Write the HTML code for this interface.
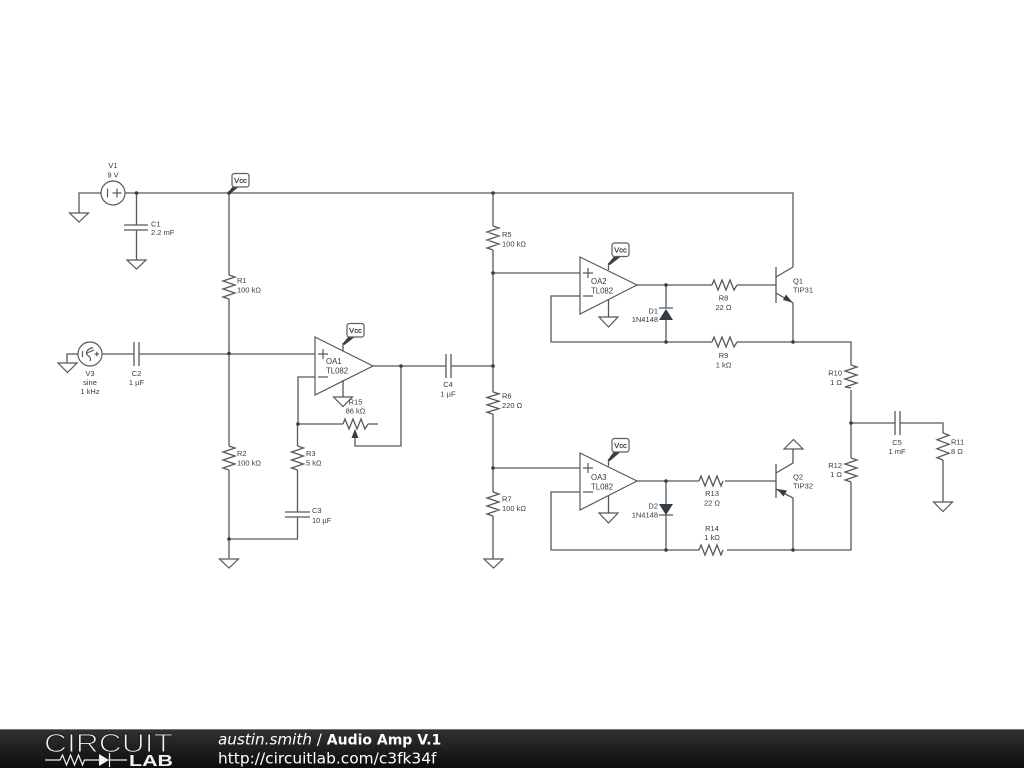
<!DOCTYPE html>
<html><head><meta charset="utf-8"><style>
html,body{margin:0;padding:0;background:#fff;width:1024px;height:768px;overflow:hidden}
svg{display:block}
.w{fill:none;stroke:#54595c;stroke-width:1.3}
.t{fill:none;stroke:#54595c;stroke-width:1.2}
.l{font:7.5px "Liberation Sans",sans-serif;fill:#3a3a3a}
.m{text-anchor:middle}
.op{font:7.8px "Liberation Sans",sans-serif;fill:#3a3a3a}
.v{font:7.6px "Liberation Sans",sans-serif;fill:#222;stroke:#222;stroke-width:.15;text-anchor:middle}
.b{fill:#fff;stroke:#5a5f62;stroke-width:1.2}
.f{font:15.2px "DejaVu Sans",sans-serif;fill:#fff}
</style></head><body>
<svg width="1024" height="768" viewBox="0 0 1024 768" xmlns="http://www.w3.org/2000/svg">
<defs>
<linearGradient id="g" x1="0" y1="0" x2="0" y2="1"><stop offset="0" stop-color="#333"/><stop offset="1" stop-color="#0c0c0c"/></linearGradient>
</defs>
<rect width="1024" height="768" fill="#fff"/>

<!-- wires -->
<path class="w" d="M125 193H793V267M101 193H79V213M136.500 193V225M136.500 230V260
M229 193V275M229 299V446M229 470V558M229 539H297.500V517M297.500 512V470M297.500 446V424
M102 354H134M139 354H315M78 354H67V363
M315 377H298V424H343M368 424H378M355 438V446H401V366M373 366H446M451 366H493
M343 351V343M343 380V397
M493 193V226M493 250V392M493 414V492M493 516V559
M493 273H580M493 468H580
M580 296H551V342H712M737 342H851V365M851 390V458M851 482V550H727M699 550H551V492H580
M637 285H712M737 285H776M637 481H699M725 481H776
M666 285V308M666 319V342M666 481V504M666 515V550
M608.500 263V270M608.500 300V317M608.500 459V466M608.500 496V513
M776 277L793 267M776 293L793 303V342M776 473L793 463V449M776 489L793 498V550
M851 423H895M900 423H943V433M943 460V502"/>

<!-- transistor bars and plates -->
<path class="w" d="M776 267V303M776 464V498M124 225H148M124 230H148M134 342V366M139 342V366M285 512H310M285 517H310M446 354V378M451 354V378M895 411V435M900 411V435M659 308H673M659 515H673"/>

<!-- resistors -->
<path class="w" d="M229 275l6 2l-12 4l12 4l-12 4l12 4l-12 4l6 2M229 446l6 2l-12 4l12 4l-12 4l12 4l-12 4l6 2M297.500 446l6 2l-12 4l12 4l-12 4l12 4l-12 4l6 2M493 226l6 2l-12 4l12 4l-12 4l12 4l-12 4l6 2M493 392l6 1.800l-12 3.700l12 3.700l-12 3.700l12 3.700l-12 3.700l6 1.800M493 492l6 2l-12 4l12 4l-12 4l12 4l-12 4l6 2M851 365l6 2l-12 4l12 4l-12 4l12 4l-12 4l6 1M851 458l6 2l-12 4l12 4l-12 4l12 4l-12 4l6 2M943 433l6 2.200l-12 4.500l12 4.500l-12 4.500l12 4.500l-12 4.500l6 2.300"/>
<path class="w" d="M343 424l2 -5l4 10l4 -10l4 10l4 -10l4 10l3 -5M712 285l2 -5l4 10l4 -10l4 10l4 -10l4 10l3 -5M712 342l2 -5l4 10l4 -10l4 10l4 -10l4 10l3 -5M699 481l2 -5l4 10l4 -10l4 10l4 -10l4 10l2 -5M699 550l2 -5l4 10l4 -10l4 10l4 -10l4 10l2 -5"/>

<!-- grounds -->
<path class="t" d="M69.500 213H88.500L79 222ZM127 260H146L136.500 269ZM58 363H77L67.500 372.500ZM219.500 559H238.500L229 568ZM333.500 397H352.500L343 406.500ZM484 559H503L493.500 568ZM599 317H618L608.500 327ZM599 513H618L608.500 523ZM933.500 502H952.500L943 511.500ZM784 449H803L793.500 439.500Z"/>

<!-- op amps -->
<path class="t" d="M315 337L373 366L315 395ZM580 257L637 285L580 314ZM580 453L637 481L580 510Z"/>
<path class="t" d="M318 354h10M323 349v10M318 377h10M583 273h10M588 268v10M583 296h10M583 468h10M588 463v10M583 492h10"/>

<!-- sources -->
<circle class="t" cx="113" cy="193" r="12"/>
<path class="t" d="M107.500 188.500v9M112.500 193h9M117 188.500v9"/>
<circle class="t" cx="90" cy="354" r="12"/>
<path class="t" stroke-width="1" d="M82.500 351v6M93 347.500C87 349 85 353 87.500 355C89 356.500 91.500 358 90 361M87 353L94 350M94.500 354h4.500M96.800 351.700v4.600"/>

<!-- diodes, arrows -->
<path fill="#333d42" d="M666 309L673 320H659ZM666 515L673 504H659ZM355 429L358.500 438H351.500ZM792.500 302.500L783 300L786 294.500ZM777 489L787 490.500L783.500 496.500Z"/>

<!-- Vcc flags -->
<path fill="#3a3f42" d="M228.300 192L234 185H241L230 194ZM342.300 344L349 336H356L344.500 345ZM607.800 264L614 256.500H621L610 265ZM607.800 460L614 451.500H621L610 461Z"/>
<rect class="b" x="232" y="173.500" width="17" height="13.500" rx="2.500"/>
<rect class="b" x="347" y="323.500" width="17" height="13.500" rx="2.500"/>
<rect class="b" x="612" y="243" width="17" height="13.500" rx="2.500"/>
<rect class="b" x="612" y="438.500" width="17" height="13.500" rx="2.500"/>
<text class="v" x="240.500" y="183">Vcc</text>
<text class="v" x="355.500" y="333">Vcc</text>
<text class="v" x="620.500" y="252.500">Vcc</text>
<text class="v" x="620.500" y="448">Vcc</text>

<!-- junctions -->
<g fill="#333d42">
<circle cx="136.500" cy="193" r="1.800"/><circle cx="229" cy="193" r="1.800"/><circle cx="493" cy="193" r="1.800"/>
<circle cx="229" cy="353.500" r="1.800"/><circle cx="229" cy="539" r="1.800"/><circle cx="298" cy="424" r="1.800"/>
<circle cx="401" cy="366" r="1.800"/><circle cx="493" cy="366" r="1.800"/><circle cx="493" cy="273" r="1.800"/><circle cx="493" cy="468" r="1.800"/>
<circle cx="666" cy="285" r="1.800"/><circle cx="666" cy="342" r="1.800"/><circle cx="666" cy="481" r="1.800"/><circle cx="666" cy="550" r="1.800"/>
<circle cx="793" cy="342" r="1.800"/><circle cx="793" cy="550" r="1.800"/><circle cx="851" cy="423" r="1.800"/>
</g>

<!-- labels -->
<g class="l">
<text class="m" x="113" y="168">V1</text><text class="m" x="113" y="177.500">9 V</text>
<text x="151" y="226.500">C1</text><text x="151" y="235">2.2 mF</text>
<text x="237" y="283">R1</text><text x="237" y="292.500">100 kΩ</text>
<text class="m" x="90" y="376">V3</text><text class="m" x="90" y="385">sine</text><text class="m" x="90" y="394">1 kHz</text>
<text class="m" x="136.500" y="376">C2</text><text class="m" x="136.500" y="385">1 µF</text>
<text x="237" y="456">R2</text><text x="237" y="465.500">100 kΩ</text>
<text x="306" y="456">R3</text><text x="306" y="465.500">5 kΩ</text>
<text x="312" y="513">C3</text><text x="312" y="523">10 µF</text>
<text class="m" x="355.500" y="404.500">R15</text><text class="m" x="355.500" y="413.500">86 kΩ</text>
<text class="m" x="448" y="387">C4</text><text class="m" x="448" y="396.500">1 µF</text>
<text x="502" y="237">R5</text><text x="502" y="246.500">100 kΩ</text>
<text x="502" y="398.500">R6</text><text x="502" y="408">220 Ω</text>
<text x="502" y="501.500">R7</text><text x="502" y="511">100 kΩ</text>
<text class="m" x="723.500" y="300.500">R8</text><text class="m" x="723.500" y="310">22 Ω</text>
<text class="m" x="723.500" y="358">R9</text><text class="m" x="723.500" y="367.500">1 kΩ</text>
<text class="m" x="712" y="496">R13</text><text class="m" x="712" y="505.500">22 Ω</text>
<text class="m" x="712" y="531">R14</text><text class="m" x="712" y="540">1 kΩ</text>
<text x="793" y="283.500">Q1</text><text x="793" y="292.500">TIP31</text>
<text x="793" y="479.500">Q2</text><text x="793" y="488.500">TIP32</text>
<text x="658" y="313.500" text-anchor="end">D1</text><text x="658" y="322" text-anchor="end">1N4148</text>
<text x="658" y="508.500" text-anchor="end">D2</text><text x="658" y="517.500" text-anchor="end">1N4148</text>
<text x="842" y="375.500" text-anchor="end">R10</text><text x="842" y="385" text-anchor="end">1 Ω</text>
<text x="842" y="468" text-anchor="end">R12</text><text x="842" y="477" text-anchor="end">1 Ω</text>
<text class="m" x="897" y="445">C5</text><text class="m" x="897" y="454">1 mF</text>
<text x="951" y="444.500">R11</text><text x="951" y="454">8 Ω</text>
</g>
<g class="op">
<text x="326" y="364">OA1</text><text x="326" y="373.500">TL082</text>
<text x="591" y="284">OA2</text><text x="591" y="293.500">TL082</text>
<text x="591" y="480">OA3</text><text x="591" y="489.500">TL082</text>
</g>

<!-- footer -->
<rect x="0" y="729" width="1024" height="39" fill="url(#g)"/>
<rect x="0" y="729" width="1024" height="1" fill="#777"/>
<text x="44" y="752" font-family="Liberation Sans, sans-serif" font-size="26" textLength="129" lengthAdjust="spacingAndGlyphs" fill="#f4f4f4" stroke="#1f1f1f" stroke-width="1.1">CIRCUIT</text>
<path fill="none" stroke="#f2f2f2" stroke-width="1.2" d="M45 760H60l2.500 -5l4 10l4 -10l4 10l4 -10l4 10l2 -5H99M110 760H127M109.500 753v14"/>
<path fill="#f2f2f2" d="M99 754L109 760L99 766Z"/>
<text x="129" y="766" font-family="Liberation Sans, sans-serif" font-weight="bold" font-size="16" textLength="44" lengthAdjust="spacingAndGlyphs" fill="#f2f2f2">LAB</text>
<text class="f" x="218" y="744.500"><tspan font-style="italic">austin.smith</tspan> / <tspan font-weight="bold" font-size="14">Audio Amp V.1</tspan></text>
<text class="f" x="218" y="763.500" style="font-size:15.4px">http://circuitlab.com/c3fk34f</text>
</svg>
</body></html>
